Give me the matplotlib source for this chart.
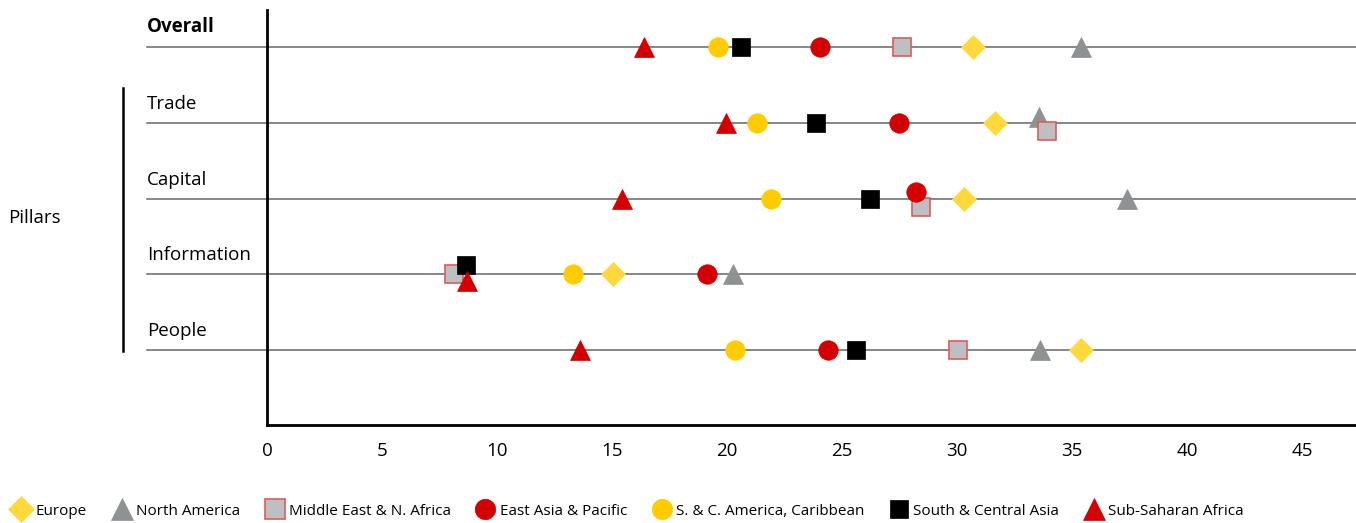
import matplotlib
matplotlib.use("Agg")
import matplotlib.pyplot as plt
from matplotlib.lines import Line2D

plt.rcParams['font.family'] = ['Open Sans', 'DejaVu Sans']

rows = ["Overall", "Trade", "Capital", "Information", "People"]
series = ["Europe", "North America", "Middle East & N. Africa", "East Asia & Pacific",
          "S. & C. America, Caribbean", "South & Central Asia", "Sub-Saharan Africa"]

europe = [30.7, 31.65, 30.3, 15.05, 35.4]
north_america = [35.4, 33.55, 37.4, 20.25, 33.6]
middle_east = [27.6, 33.9, 28.45, 8.15, 30.05]
east_asia = [24.05, 27.5, 28.2, 19.15, 24.4]
sc_america = [19.6, 21.3, 21.9, 13.3, 20.35]
south_central_asia = [20.6, 23.85, 26.2, 8.65, 25.6]
sub_saharan = [16.4, 19.95, 15.45, 8.7, 13.6]

values = [europe, north_america, middle_east, east_asia, sc_america, south_central_asia, sub_saharan]
xticks = [0, 5, 10, 15, 20, 25, 30, 35, 40, 45]

# marker styles: (marker, size, face, edge, edgewidth)
styles = [
    ("D", 12.5, "#FFD93B", "#FFD93B", 0.5),
    ("^", 14.5, "#8F9292", "#8F9292", 0.5),
    ("s", 13.5, "#BDBFC0", "#E05A5A", 1.2),
    ("o", 14.0, "#D20000", "#D20000", 0.5),
    ("o", 14.0, "#FFCC00", "#FFCC00", 0.5),
    ("s", 13.0, "#000000", "#000000", 0.5),
    ("^", 15.0, "#D20000", "#D20000", 0.5),
]

# vertical nudges for overlapping markers (row, series)
nudge = {(1, 1): -0.08, (1, 2): 0.11, (2, 3): -0.09, (2, 2): 0.11,
         (3, 5): -0.12, (3, 6): 0.09}

fig = plt.figure(figsize=(13.56, 5.23), dpi=100)
ax = fig.add_axes([267 / 1356, 1 - 425 / 523, 1 - 267 / 1356, 415 / 523])
ax.set_xlim(0, 47.35)
ax.set_ylim(4.99, -0.49)

x_left = -5.22
for i, r in enumerate(rows):
    ax.plot([x_left, 47.35], [i, i], color="#666666", lw=1.1, clip_on=False, zorder=1)
    ax.text(x_left, i - 0.13, r, fontsize=13.5, ha="left", va="bottom",
            fontweight="bold" if i == 0 else "normal", clip_on=False)

for si, (name, vals) in enumerate(zip(series, values)):
    m, ms, fc, ec, ew = styles[si]
    for ri, v in enumerate(vals):
        y = ri + nudge.get((ri, si), 0.0)
        ax.plot([v], [y], marker=m, ms=ms, mfc=fc, mec=ec, mew=ew, ls="none",
                zorder=3 + si, clip_on=False)

for s in ["top", "right"]:
    ax.spines[s].set_visible(False)
ax.spines["left"].set_linewidth(2)
ax.spines["bottom"].set_linewidth(2)
ax.set_yticks([])
ax.set_xticks(xticks)
ax.tick_params(axis="x", length=0, pad=12, labelsize=13.5)

# Pillars bracket
fig.add_artist(Line2D([123 / 1356, 123 / 1356], [1 - 88 / 523, 1 - 351 / 523],
                      color="black", lw=1.8))
fig.text(8 / 1356, 1 - 218 / 523, "Pillars", fontsize=13.5, ha="left", va="center")

handles = []
for si, name in enumerate(series):
    m, ms, fc, ec, ew = styles[si]
    handles.append(Line2D([], [], marker=m, ms=ms * 1.05, mfc=fc, mec=ec, mew=ew, ls="none"))
fig.legend(handles, series, loc="lower left", bbox_to_anchor=(0.0, -0.012), ncol=7,
           frameon=False, fontsize=11, handletextpad=0.25, columnspacing=1.55,
           handlelength=1.4, borderaxespad=0.3)

fig.savefig("out.png", dpi=100)
